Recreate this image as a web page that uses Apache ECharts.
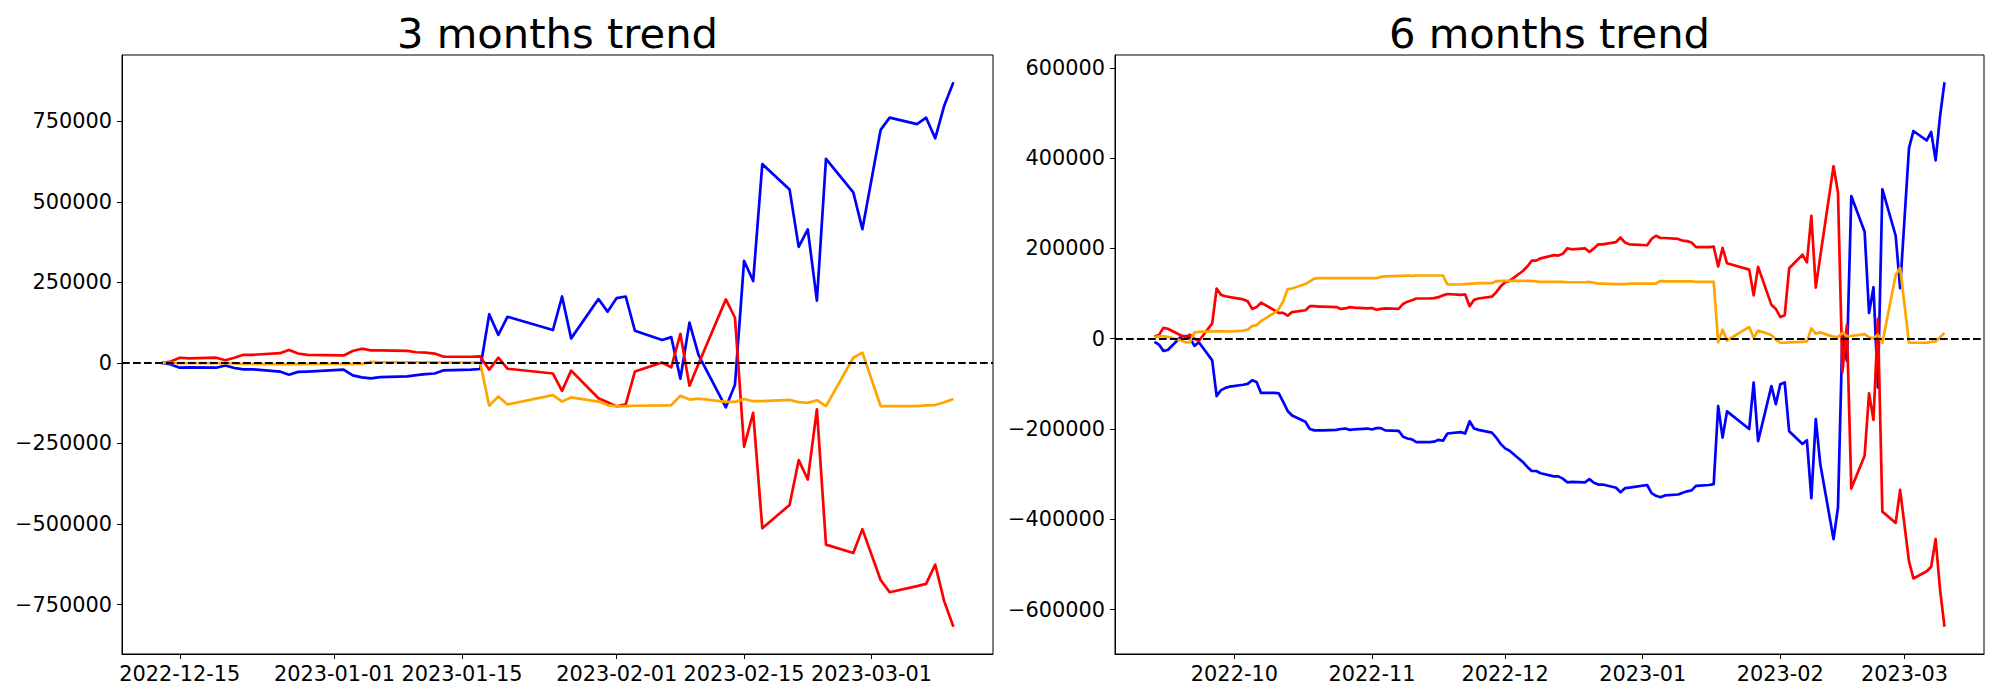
<!DOCTYPE html>
<html>
<head>
<meta charset="utf-8">
<script src="https://cdn.jsdelivr.net/npm/echarts@6/dist/echarts.min.js"></script>
<style>
html,body{margin:0;padding:0;background:#fff;}
#chart{width:2000px;height:700px;}
</style>
</head>
<body>
<div id="chart"></div>
<script>
// ---------- 3 months data ----------
const dates3m = ['2022-12-13','2022-12-14','2022-12-15','2022-12-16','2022-12-19','2022-12-20','2022-12-21','2022-12-22','2022-12-23',
'2022-12-26','2022-12-27','2022-12-28','2022-12-29','2023-01-02','2023-01-03','2023-01-04','2023-01-05','2023-01-06',
'2023-01-09','2023-01-10','2023-01-11','2023-01-12','2023-01-13','2023-01-16','2023-01-17','2023-01-18','2023-01-19','2023-01-20',
'2023-01-25','2023-01-26','2023-01-27','2023-01-30','2023-01-31','2023-02-01','2023-02-02','2023-02-03',
'2023-02-06','2023-02-07','2023-02-08','2023-02-09','2023-02-10','2023-02-13','2023-02-14','2023-02-15','2023-02-16','2023-02-17',
'2023-02-20','2023-02-21','2023-02-22','2023-02-23','2023-02-24','2023-02-27','2023-02-28',
'2023-03-02','2023-03-03','2023-03-06','2023-03-07','2023-03-08','2023-03-09','2023-03-10'];
const blue3m = [0,-5000,-15000,-14000,-15000,-8000,-16000,-20000,-20000,
-27000,-37000,-28000,-27000,-21000,-39000,-45000,-48000,-44000,
-42000,-38000,-35000,-33000,-23000,-21000,-19000,151000,87000,143000,
102000,206000,76000,198000,159000,201000,206000,100000,
71000,80000,-49000,125000,24000,-138000,-68000,317000,254000,617000,
538000,360000,414000,193000,633000,529000,415000,
723000,761000,741000,761000,697000,799000,871000];
const red3m = [0,4000,16000,14000,16000,8000,16000,25000,25000,
30000,40000,29000,25000,23000,37000,44000,39000,39000,
37000,33000,32000,29000,19000,19000,20000,-21000,16000,-18000,
-33000,-87000,-24000,-110000,-122000,-135000,-129000,-27000,
1000,-14000,90000,-71000,-3000,197000,140000,-260000,-155000,-513000,
-441000,-302000,-362000,-144000,-564000,-590000,-516000,
-674000,-712000,-693000,-686000,-626000,-741000,-819000];
const orange3m = [0,0,-1000,-1000,-1000,0,-2000,-3000,-3000,
-4000,-4000,-4000,-3000,-3000,-3000,-3000,3000,2000,
2000,2000,2000,2000,1000,1000,1000,-133000,-104000,-129000,
-100000,-120000,-107000,-120000,-131000,-135000,-134000,-133000,
-132000,-131000,-102000,-114000,-111000,-121000,-121000,-112000,-119000,-119000,
-115000,-122000,-124000,-116000,-134000,16000,32000,
-134000,-134000,-134000,-132000,-131000,-122000,-112000];

// ---------- 6 months data ----------
const dates6m = ['2022-09-13','2022-09-14','2022-09-15','2022-09-16','2022-09-19','2022-09-20','2022-09-21','2022-09-22','2022-09-23',
'2022-09-26','2022-09-27','2022-09-28','2022-09-29','2022-09-30','2022-10-03','2022-10-04','2022-10-05','2022-10-06','2022-10-07',
'2022-10-10','2022-10-11','2022-10-12','2022-10-13','2022-10-14','2022-10-17','2022-10-18','2022-10-19','2022-10-20','2022-10-21',
'2022-10-24','2022-10-25','2022-10-26','2022-10-27','2022-10-28','2022-10-31','2022-11-01','2022-11-02','2022-11-03','2022-11-04',
'2022-11-07','2022-11-08','2022-11-09','2022-11-10','2022-11-11','2022-11-14','2022-11-15','2022-11-16','2022-11-17','2022-11-18',
'2022-11-21','2022-11-22','2022-11-23','2022-11-24','2022-11-25','2022-11-28','2022-11-29','2022-11-30','2022-12-01','2022-12-02',
'2022-12-05','2022-12-06','2022-12-07','2022-12-08','2022-12-09','2022-12-12','2022-12-13','2022-12-14','2022-12-15','2022-12-16',
'2022-12-19','2022-12-20','2022-12-21','2022-12-22','2022-12-23','2022-12-26','2022-12-27','2022-12-28','2022-12-29',
'2023-01-02','2023-01-03','2023-01-04','2023-01-05','2023-01-06','2023-01-09','2023-01-10','2023-01-11','2023-01-12','2023-01-13',
'2023-01-16','2023-01-17','2023-01-18','2023-01-19','2023-01-20','2023-01-25','2023-01-26','2023-01-27','2023-01-30','2023-01-31',
'2023-02-01','2023-02-02','2023-02-03','2023-02-06','2023-02-07','2023-02-08','2023-02-09','2023-02-10','2023-02-13','2023-02-14',
'2023-02-15','2023-02-16','2023-02-17','2023-02-20','2023-02-21','2023-02-22','2023-02-23','2023-02-24','2023-02-27','2023-02-28',
'2023-03-02','2023-03-03','2023-03-06','2023-03-07','2023-03-08','2023-03-09','2023-03-10'];
const blue6m = [-7000,-13000,-27000,-25000,5000,6000,2000,-16000,-8000,
-48000,-127000,-114000,-109000,-106000,-102000,-100000,-92000,-96000,-120000,
-120000,-121000,-140000,-160000,-170000,-184000,-200000,-203000,-203000,-203000,
-202000,-200000,-199000,-202000,-201000,-199000,-201000,-198000,-198000,-203000,
-204000,-217000,-221000,-223000,-229000,-229000,-228000,-224000,-226000,-210000,
-207000,-210000,-183000,-199000,-202000,-208000,-219000,-233000,-243000,-248000,
-273000,-284000,-293000,-293000,-298000,-305000,-305000,-310000,-318000,-317000,
-318000,-311000,-319000,-323000,-323000,-330000,-340000,-331000,-330000,
-324000,-342000,-348000,-351000,-347000,-345000,-341000,-338000,-336000,-326000,
-324000,-322000,-149000,-219000,-161000,-200000,-97000,-227000,-105000,-145000,
-101000,-97000,-205000,-233000,-225000,-353000,-178000,-277000,-444000,-374000,
14000,-49000,316000,237000,57000,114000,-108000,331000,228000,112000,
422000,460000,439000,458000,395000,493000,568000];
const red6m = [5000,8000,24000,22000,7000,4000,9000,0,-5000,
34000,111000,97000,94000,92000,87000,83000,66000,70000,80000,
63000,57000,57000,51000,59000,63000,72000,72000,71000,71000,
70000,66000,67000,70000,69000,67000,68000,64000,66000,67000,
66000,77000,82000,85000,89000,89000,90000,92000,96000,99000,
97000,98000,72000,86000,89000,93000,103000,116000,125000,128000,
150000,160000,173000,173000,178000,185000,184000,188000,200000,198000,
200000,192000,200000,209000,209000,214000,224000,213000,209000,
207000,221000,228000,223000,223000,221000,217000,216000,213000,203000,
203000,204000,160000,201000,167000,153000,96000,159000,75000,66000,
48000,52000,156000,186000,169000,272000,113000,182000,382000,324000,
-74000,30000,-332000,-259000,-121000,-180000,44000,-383000,-408000,-335000,
-493000,-531000,-515000,-505000,-444000,-556000,-638000];
const orange6m = [3000,5000,5000,4000,-4000,-8000,-8000,14000,15000,
16000,16000,16000,16000,16000,18000,20000,28000,30000,39000,
57000,66000,83000,110000,111000,121000,127000,133000,134000,134000,
134000,134000,134000,134000,134000,134000,134000,134000,137000,138000,
139000,139000,140000,139000,140000,140000,140000,140000,140000,120000,
120000,121000,122000,122000,123000,123000,127000,128000,128000,128000,
128000,128000,128000,127000,126000,126000,126000,126000,125000,125000,
125000,126000,124000,122000,122000,121000,121000,121000,122000,
122000,122000,122000,128000,127000,127000,127000,127000,127000,126000,
126000,126000,-8000,20000,-4000,26000,2000,18000,8000,-2000,
-9000,-9000,-8000,-7000,-6000,23000,11000,14000,4000,4000,
13000,6000,6000,10000,3000,1000,9000,-9000,141000,157000,
-9000,-9000,-9000,-7000,-6000,3000,13000];

// ---------- tick labels ----------
const xTicks3m = ['2022-12-15','2023-01-01','2023-01-15','2023-02-01','2023-02-15','2023-03-01'];
const xTicks6m = ['2022-10-01','2022-11-01','2022-12-01','2023-01-01','2023-02-01','2023-03-01'];
const yTicks3m = [-750000,-500000,-250000,0,250000,500000,750000];
const yTicks6m = [-600000,-400000,-200000,0,200000,400000,600000];
const titles = ['3 months trend','6 months trend'];

// ---------- helpers ----------
const DAY = 86400000;
const ts = s => { const p = s.split('-').map(Number); return Date.UTC(p[0], p[1]-1, p[2]); };
const pad2 = n => (n < 10 ? '0' : '') + n;
const fmtDay = v => { const d = new Date(Math.round(v / DAY) * DAY); return d.getUTCFullYear() + '-' + pad2(d.getUTCMonth()+1) + '-' + pad2(d.getUTCDate()); };
const fmtMonth = v => { const d = new Date(Math.round(v / DAY) * DAY); return d.getUTCFullYear() + '-' + pad2(d.getUTCMonth()+1); };
const fmtNum = v => (v < 0 ? '\u2212' + Math.abs(v) : String(v));
function padRange(lo, hi){ const m = (hi - lo) * 0.05; return [lo - m, hi + m]; }

const FONT = 'DejaVu Sans';
const tickFont = 20.83;

function xAxisFor(idx, dates, ticks, fmt){
  const r = padRange(ts(dates[0]), ts(dates[dates.length-1]));
  const tv = ticks.map(ts);
  return {
    type: 'value', gridIndex: idx, min: r[0], max: r[1], scale: true,
    axisLine: {show: true, onZero: false, lineStyle: {color: '#000', width: 1}},
    axisTick: {show: true, length: 5, lineStyle: {color: '#000', width: 1}, customValues: tv},
    axisLabel: {customValues: tv, formatter: v => fmt(v), color: '#000', fontFamily: FONT, fontSize: tickFont, margin: 9, hideOverlap: false},
    splitLine: {show: false}, minorTick: {show: false}
  };
}
function yAxisFor(idx, series, ticks){
  const all = [].concat.apply([], series);
  const r = padRange(Math.min.apply(null, all), Math.max.apply(null, all));
  return {
    type: 'value', gridIndex: idx, min: r[0], max: r[1],
    axisLine: {show: true, onZero: false, lineStyle: {color: '#000', width: 1}},
    axisTick: {show: true, length: 5, lineStyle: {color: '#000', width: 1}, customValues: ticks},
    axisLabel: {customValues: ticks, formatter: v => fmtNum(v), color: '#000', fontFamily: FONT, fontSize: tickFont, margin: 10},
    splitLine: {show: false}
  };
}
function lineSeries(idx, dates, vals, color, withZero){
  const s = {
    type: 'line', xAxisIndex: idx, yAxisIndex: idx,
    data: dates.map((d, i) => [ts(d), vals[i]]),
    showSymbol: false, symbol: 'none', smooth: false,
    lineStyle: {color: color, width: 2.7, join: 'round'}, itemStyle: {color: color},
    animation: false, silent: true
  };
  if (withZero) {
    s.markLine = {
      silent: true, symbol: ['none','none'], animation: false,
      label: {show: false},
      lineStyle: {color: '#000', width: 2, type: [7.7, 3.3]},
      data: [{yAxis: 0}]
    };
  }
  return s;
}

const grids = [
  {left: 122, top: 55, width: 871, height: 599},
  {left: 1115, top: 55, width: 869, height: 599}
];

const option = {
  backgroundColor: '#fff',
  animation: false,
  title: [0,1].map(i => ({
    text: titles[i],
    left: grids[i].left + grids[i].width / 2,
    top: 12, textAlign: 'center', padding: 0,
    textStyle: {fontFamily: FONT, fontSize: 41.7, fontWeight: 'normal', color: '#000'}
  })),
  grid: grids.map(g => Object.assign({show: true, borderColor: '#000', borderWidth: 1, backgroundColor: 'transparent', containLabel: false}, g)),
  xAxis: [xAxisFor(0, dates3m, xTicks3m, fmtDay), xAxisFor(1, dates6m, xTicks6m, fmtMonth)],
  yAxis: [yAxisFor(0, [blue3m, red3m, orange3m], yTicks3m), yAxisFor(1, [blue6m, red6m, orange6m], yTicks6m)],
  series: [
    lineSeries(0, dates3m, blue3m, '#0000ff', false),
    lineSeries(0, dates3m, red3m, '#ff0000', false),
    lineSeries(0, dates3m, orange3m, '#ffa500', true),
    lineSeries(1, dates6m, blue6m, '#0000ff', false),
    lineSeries(1, dates6m, red6m, '#ff0000', false),
    lineSeries(1, dates6m, orange6m, '#ffa500', true)
  ]
};

const chart = echarts.init(document.getElementById('chart'), null, {renderer: 'svg', width: 2000, height: 700});
chart.setOption(option);
</script>
</body>
</html>
